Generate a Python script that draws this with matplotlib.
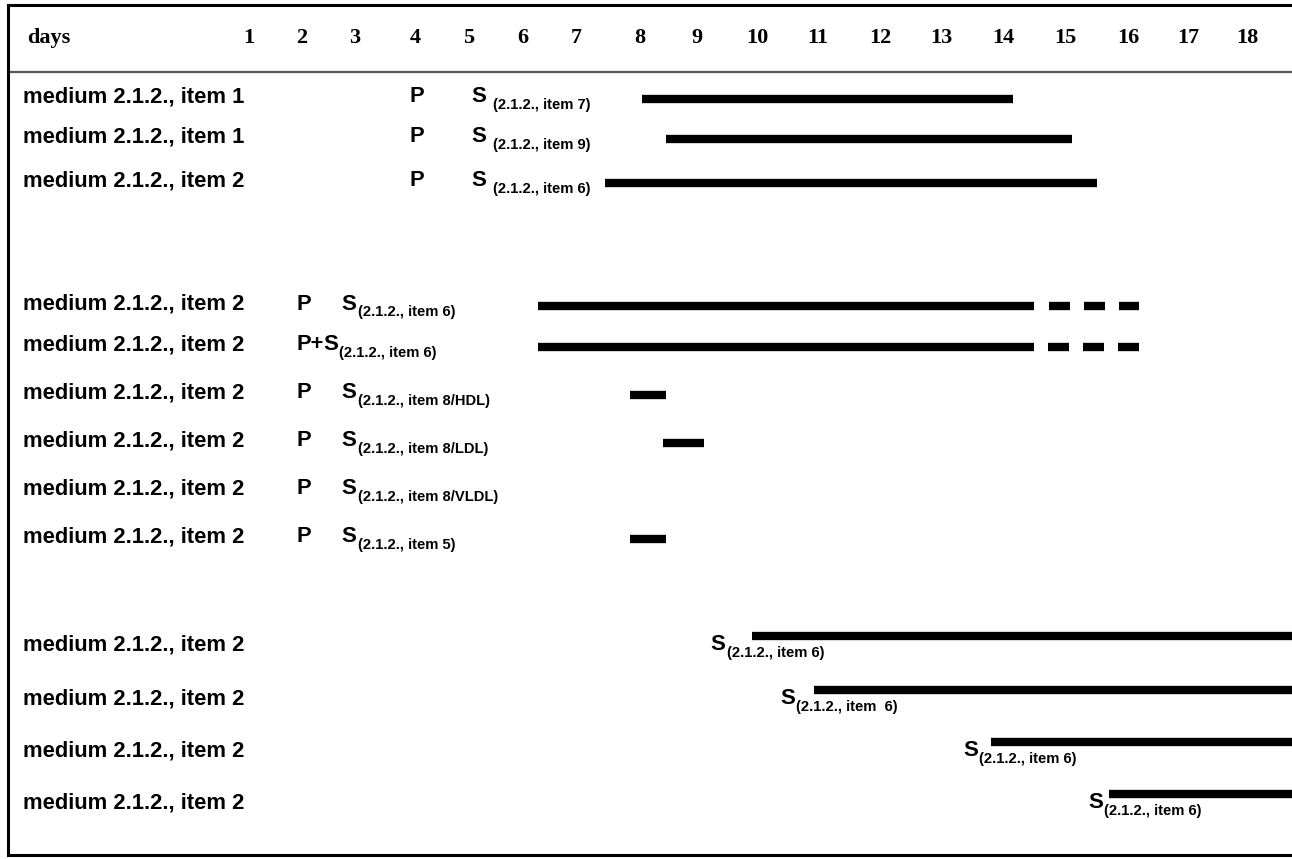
import numpy as np
import matplotlib
matplotlib.use("Agg")
import matplotlib.pyplot as plt

# ---- data ----
days = list(range(1, 19))
row_labels = ["medium 2.1.2., item 1", "medium 2.1.2., item 1", "medium 2.1.2., item 2",
              "medium 2.1.2., item 2", "medium 2.1.2., item 2", "medium 2.1.2., item 2",
              "medium 2.1.2., item 2", "medium 2.1.2., item 2", "medium 2.1.2., item 2",
              "medium 2.1.2., item 2", "medium 2.1.2., item 2", "medium 2.1.2., item 2",
              "medium 2.1.2., item 2"]
p_labels = ["P", "P", "P", "P", "P+", "P", "P", "P", "P", "", "", "", ""]
p_days = [4, 4, 4, 2, 2, 2, 2, 2, 2, None, None, None, None]
s_subs = ["(2.1.2., item 7)", "(2.1.2., item 9)", "(2.1.2., item 6)", "(2.1.2., item 6)",
          "(2.1.2., item 6)", "(2.1.2., item 8/HDL)", "(2.1.2., item 8/LDL)",
          "(2.1.2., item 8/VLDL)", "(2.1.2., item 5)", "(2.1.2., item 6)",
          "(2.1.2., item  6)", "(2.1.2., item 6)", "(2.1.2., item 6)"]
bar_start = [8.03, 8.46, 7.45, 6.28, 6.28, 7.85, 8.40, None, 7.85, 9.92, 10.93, 13.81, 15.70]
bar_end = [14.16, 15.11, 15.51, 14.50, 14.50, 8.45, 9.12, None, 8.45, None, None, None, None]  # None = still running
dash_start = [None, None, None, 14.74, 14.72, None, None, None, None, None, None, None, None]
dash_end = [None, None, None, 16.19, 16.19, None, None, None, None, None, None, None, None]

# ---- layout ----
W, H = 1292, 859
day_px = [249, 302, 355, 415, 469, 523, 576, 640, 697, 757, 818, 880, 941, 1003, 1065, 1128, 1188, 1247]
row_y = [97, 137, 181, 304, 345, 393, 441, 489, 537, 645, 699, 751, 803]
s_day = [5.05, 5.05, 5.05, 2.75, None, 2.75, 2.75, 2.75, 2.75, 9.23, 10.38, 13.36, 15.37]
lower = [False] * 9 + [True] * 4

d_arr = np.array(days, float)
p_arr = np.array(day_px, float)
s0 = (p_arr[1] - p_arr[0]) / (d_arr[1] - d_arr[0])
s1 = (p_arr[-1] - p_arr[-2]) / (d_arr[-1] - d_arr[-2])


def fwd(d):
    d = np.asarray(d, float)
    p = np.interp(d, d_arr, p_arr)
    p = np.where(d < d_arr[0], p_arr[0] + (d - d_arr[0]) * s0, p)
    p = np.where(d > d_arr[-1], p_arr[-1] + (d - d_arr[-1]) * s1, p)
    return p


def inv(p):
    p = np.asarray(p, float)
    d = np.interp(p, p_arr, d_arr)
    d = np.where(p < p_arr[0], d_arr[0] + (p - p_arr[0]) / s0, d)
    d = np.where(p > p_arr[-1], d_arr[-1] + (p - p_arr[-1]) / s1, d)
    return d


fig = plt.figure(figsize=(W / 100, H / 100), dpi=100)
left_px, top_px, bot_px = 8, 5, 855
ax = fig.add_axes([left_px / W, (H - bot_px) / H, 1 - left_px / W, (bot_px - top_px) / H])
ax.set_xscale("function", functions=(fwd, inv))
ax.set_xlim(float(inv(left_px)), float(inv(W)))
ax.set_ylim(bot_px, top_px)
ax.set_xticks([])
ax.set_yticks([])
ax.minorticks_off()
for side in ["left", "top", "bottom"]:
    ax.spines[side].set_linewidth(2.2)
ax.spines["right"].set_visible(False)

serif = "Liberation Serif"
sans = "Liberation Sans"
xmax = ax.get_xlim()[1]
lab_x = (23 - left_px) / (W - left_px)
ytr = ax.get_yaxis_transform()

# header
ax.text((27 - left_px) / (W - left_px), 38, "days", transform=ytr, family=serif,
        weight="bold", fontsize=16, va="center", ha="left")
for d in days:
    ax.text(d, 38, str(d), family=serif, weight="bold", fontsize=16, va="center", ha="center")
ax.axhline(72, color="#555555", lw=1.6)

lw = 6
for i, lab in enumerate(row_labels):
    y = row_y[i]
    ax.text(lab_x, y, lab, transform=ytr, family=sans, weight="bold", fontsize=15.8,
            va="center", ha="left")
    if p_days[i] is not None:
        ax.annotate(p_labels[i], xy=(p_days[i], y), xytext=(-4, 0), textcoords="offset points",
                    family=sans, weight="bold", fontsize=15.8, va="center", ha="left")
    # S with subscript
    if s_day[i] is not None:
        sx = s_day[i]
        sxo = 0
    else:
        sx = p_days[i]
        sxo = 15.2
    gap = 15 if i < 3 else 11.5
    ax.annotate("S", xy=(sx, y), xytext=(sxo, 0), textcoords="offset points",
                family=sans, weight="bold", fontsize=16, va="center", ha="left")
    ax.annotate(s_subs[i], xy=(sx, y), xytext=(sxo + gap, -6), textcoords="offset points",
                family=sans, weight="bold", fontsize=10.6, va="center", ha="left")
    # bars
    if bar_start[i] is not None:
        e = bar_end[i] if bar_end[i] is not None else xmax
        by = y - 9 if lower[i] else y + 2
        ax.plot([bar_start[i], e], [by, by], color="black", lw=lw, solid_capstyle="butt")
    if dash_start[i] is not None:
        ax.plot([dash_start[i], dash_end[i]], [y + 2, y + 2], color="black", lw=lw,
                dashes=(21 * 0.72 / lw, 14 * 0.72 / lw), dash_capstyle="butt")

fig.savefig("out.png", dpi=100)
